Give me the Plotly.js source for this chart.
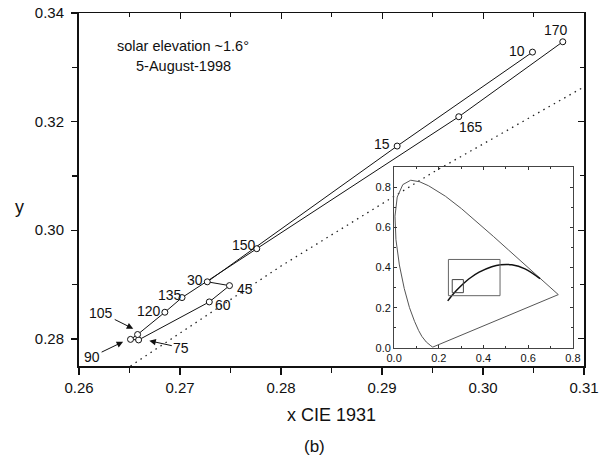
<!DOCTYPE html>
<html>
<head>
<meta charset="utf-8">
<script src="https://cdn.plot.ly/plotly-3.0.1.min.js"></script>
<style>html,body{margin:0;padding:0;background:#fff}#chart{width:603px;height:460px}</style>
</head>
<body>
<div id="chart"></div>
<script>
// Measured chromaticity path (azimuth in degrees)
const azimuth = [10, 15, 30, 45, 60, 75, 90, 105, 120, 135, 150, 165, 170];
const cieX = [0.3049, 0.2915, 0.2727, 0.2749, 0.2729, 0.2659, 0.2651, 0.2658, 0.2685, 0.2702, 0.2776, 0.2976, 0.3079];
const cieY = [0.3328, 0.3155, 0.2905, 0.2898, 0.2868, 0.2798, 0.2799, 0.2808, 0.2849, 0.2876, 0.2966, 0.3209, 0.3347];

// Plain labels: text, x, y
const labelText = ["170", "10", "165", "15", "150", "30", "135", "45", "60", "120"];
const labelX = [0.3072, 0.3034, 0.2988, 0.2900, 0.2763, 0.2715, 0.2690, 0.2764, 0.2743, 0.2669];
const labelY = [0.3369, 0.3330, 0.3190, 0.3159, 0.2973, 0.2909, 0.2881, 0.2892, 0.2862, 0.2852];

// Arrow labels: text, tip x, tip y, text offset (px)
const arrowText = ["90", "105", "75"];
const arrowTipX = [0.26437, 0.26537, 0.26696];
const arrowTipY = [0.27947, 0.28186, 0.27965];
const arrowDX = [-31, -32, 32];
const arrowDY = [15, -16, 7];

// Dotted daylight locus in the zoomed range
const dayX = [0.2651, 0.2800, 0.2950, 0.3100];
const dayY = [0.2750, 0.2934, 0.3106, 0.3264];

// Inset: CIE 1931 spectral locus
const locusX = [0.1741, 0.1733, 0.1714, 0.1644, 0.1566, 0.1440, 0.1241, 0.1096, 0.0913, 0.0687, 0.0454, 0.0235, 0.0082, 0.0039, 0.0139, 0.0389, 0.0743, 0.1142, 0.1547, 0.2296, 0.3016, 0.3731, 0.4441, 0.5125, 0.5752, 0.6270, 0.6658, 0.6915, 0.7079, 0.7190, 0.7260, 0.7334, 0.7347, 0.1741];
const locusY = [0.0050, 0.0048, 0.0051, 0.0109, 0.0177, 0.0297, 0.0578, 0.0868, 0.1327, 0.2007, 0.2950, 0.4127, 0.5384, 0.6548, 0.7502, 0.8120, 0.8338, 0.8262, 0.8059, 0.7543, 0.6923, 0.6245, 0.5547, 0.4866, 0.4242, 0.3725, 0.3340, 0.3083, 0.2920, 0.2809, 0.2740, 0.2666, 0.2653, 0.0050];
// Inset: Planckian locus
const planckX = [0.2399, 0.2525, 0.2637, 0.2807, 0.2952, 0.3221, 0.3451, 0.3805, 0.4369, 0.4770, 0.5267, 0.5857, 0.6528];
const planckY = [0.2342, 0.2523, 0.2674, 0.2884, 0.3048, 0.3318, 0.3516, 0.3768, 0.4041, 0.4137, 0.4133, 0.3931, 0.3444];
// Inset: boxes
const boxBigX = [0.243, 0.474, 0.474, 0.243, 0.243];
const boxBigY = [0.26, 0.26, 0.44, 0.44, 0.26];
const boxSmallX = [0.26, 0.31, 0.31, 0.26, 0.26];
const boxSmallY = [0.275, 0.275, 0.34, 0.34, 0.275];

const FONT = "Liberation Sans, Arial, sans-serif";

const traces = [
  {x: dayX, y: dayY, mode: "lines", line: {color: "#222", width: 1.3, dash: "1.5px,4.5px"}, xaxis: "x", yaxis: "y", hoverinfo: "skip"},
  {x: cieX, y: cieY, text: azimuth, mode: "lines+markers", line: {color: "#111", width: 1},
   marker: {symbol: "circle", size: 6, color: "#fff", line: {color: "#111", width: 1}}, xaxis: "x", yaxis: "y"},
  {x: locusX, y: locusY, mode: "lines", line: {color: "#555", width: 1}, xaxis: "x2", yaxis: "y2", hoverinfo: "skip"},
  {x: planckX, y: planckY, mode: "lines", line: {color: "#111", width: 1.5, shape: "spline"}, xaxis: "x2", yaxis: "y2", hoverinfo: "skip"},
  {x: boxBigX, y: boxBigY, mode: "lines", line: {color: "#666", width: 1}, xaxis: "x2", yaxis: "y2", hoverinfo: "skip"},
  {x: boxSmallX, y: boxSmallY, mode: "lines", line: {color: "#444", width: 1}, xaxis: "x2", yaxis: "y2", hoverinfo: "skip"},
  {x: [null], y: [null], mode: "lines", xaxis: "x3", yaxis: "y3", hoverinfo: "skip"}
];

const annotations = [];
for (let i = 0; i < labelText.length; i++) {
  annotations.push({x: labelX[i], y: labelY[i], xref: "x", yref: "y", text: labelText[i], showarrow: false,
    xanchor: "center", yanchor: "middle", font: {family: FONT, size: 14, color: "#111"}});
}
for (let i = 0; i < arrowText.length; i++) {
  annotations.push({x: arrowTipX[i], y: arrowTipY[i], xref: "x", yref: "y", text: arrowText[i], showarrow: true,
    ax: arrowDX[i], ay: arrowDY[i], arrowhead: 2, arrowsize: 1.3, arrowwidth: 1, arrowcolor: "#111",
    font: {family: FONT, size: 14, color: "#111"}});
}
const paperNote = (x, y, text, size) => ({x: x, y: y, xref: "paper", yref: "paper", text: text, showarrow: false,
  xanchor: "center", yanchor: "middle", font: {family: FONT, size: size, color: "#111"}});
annotations.push(
  paperNote(0.206, 0.907, "solar elevation ~1.6°", 14.5),
  paperNote(0.206, 0.850, "5-August-1998", 14.5),
  paperNote(0.5, -0.139, "x CIE 1931", 18),
  paperNote(0.467, -0.229, "(b)", 17),
  paperNote(-0.117, 0.45, "y", 18)
);

const layout = {
  width: 603, height: 460,
  margin: {l: 79, r: 19, t: 13, b: 94},
  paper_bgcolor: "#fff", plot_bgcolor: "rgba(0,0,0,0)",
  showlegend: false,
  font: {family: FONT, color: "#111"},
  xaxis: {range: [0.26, 0.31], tick0: 0.26, dtick: 0.01, tickformat: ".2f", ticks: "outside", ticklen: 7, tickwidth: 1.3,
    tickcolor: "#111", showline: true, linewidth: 2, linecolor: "#111", showgrid: false, zeroline: false,
    tickfont: {family: FONT, size: 15, color: "#111"},
    minor: {dtick: 0.005, ticks: "outside", ticklen: 5, tickwidth: 1.3, tickcolor: "#111", showgrid: false}},
  yaxis: {range: [0.275, 0.34], tick0: 0.28, dtick: 0.02, tickformat: ".2f", ticks: "outside", ticklen: 6, tickwidth: 1.3,
    tickcolor: "#111", showline: true, linewidth: 2, linecolor: "#111", showgrid: false, zeroline: false,
    ticklabelstandoff: 4,
    tickfont: {family: FONT, size: 15, color: "#111"},
    minor: {dtick: 0.01, ticks: "outside", ticklen: 5, tickwidth: 1.3, tickcolor: "#111", showgrid: false}},
  xaxis3: {overlaying: "x", side: "top", anchor: "y3", range: [0.26, 0.31], tick0: 0.26, dtick: 0.01, ticks: "inside", ticklen: 6,
    tickcolor: "#111", showticklabels: false, showline: true, linewidth: 1.5, linecolor: "#111", showgrid: false, zeroline: false,
    minor: {dtick: 0.005, ticks: "inside", ticklen: 4, tickcolor: "#111", showgrid: false}},
  yaxis3: {overlaying: "y", side: "right", anchor: "x3", range: [0.275, 0.34], tick0: 0.28, dtick: 0.02, ticks: "inside", ticklen: 6,
    tickcolor: "#111", showticklabels: false, showline: true, linewidth: 2, linecolor: "#111", showgrid: false, zeroline: false,
    minor: {dtick: 0.01, ticks: "inside", ticklen: 4, tickcolor: "#111", showgrid: false}},
  xaxis2: {domain: [0.624, 0.978], anchor: "y2", range: [0, 0.8], dtick: 0.2, tickformat: ".1f", ticks: "inside", ticklen: 3,
    tickcolor: "#333", showline: true, mirror: "ticks", linewidth: 1, linecolor: "#444", showgrid: false, zeroline: false,
    tickfont: {family: FONT, size: 11, color: "#111"},
    minor: {dtick: 0.1, ticks: "inside", ticklen: 2, tickcolor: "#333", showgrid: false}},
  yaxis2: {domain: [0.051, 0.564], anchor: "x2", range: [0, 0.9], dtick: 0.2, tickformat: ".1f", ticks: "inside", ticklen: 3,
    tickcolor: "#333", showline: true, mirror: "ticks", linewidth: 1, linecolor: "#444", showgrid: false, zeroline: false,
    tickfont: {family: FONT, size: 11, color: "#111"},
    minor: {dtick: 0.1, ticks: "inside", ticklen: 2, tickcolor: "#333", showgrid: false}},
  annotations: annotations
};

Plotly.newPlot("chart", traces, layout, {staticPlot: true, displayModeBar: false});
</script>
</body>
</html>
